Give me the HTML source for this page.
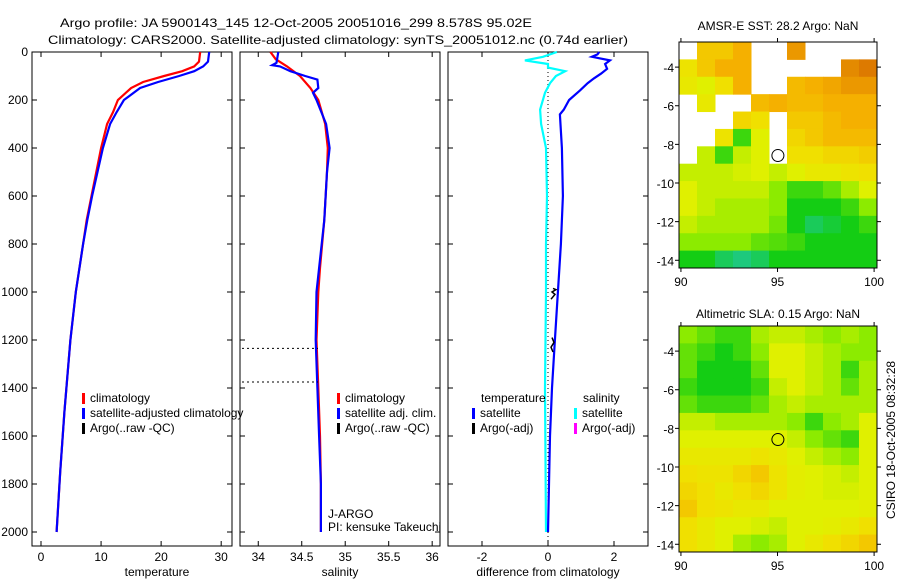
<!DOCTYPE html>
<html><head><meta charset="utf-8">
<style>
body{margin:0;background:#fff;}
svg text{font-family:"Liberation Sans",sans-serif;font-size:12px;fill:#000;}
</style></head>
<body>
<svg id="c" width="900" height="580" xmlns="http://www.w3.org/2000/svg">
<text x="60" y="27" font-size="14" textLength="472" lengthAdjust="spacingAndGlyphs">Argo profile: JA 5900143_145 12-Oct-2005 20051016_299 8.578S 95.02E</text>
<text x="48" y="44" font-size="14" textLength="580" lengthAdjust="spacingAndGlyphs">Climatology: CARS2000. Satellite-adjusted climatology: synTS_20051012.nc (0.74d earlier)</text>
<text x="157" y="576" text-anchor="middle">temperature</text>
<text x="340" y="576" text-anchor="middle">salinity</text>
<text x="548" y="576" text-anchor="middle">difference from climatology</text>
<text x="778" y="30" text-anchor="middle" font-size="13">AMSR-E SST: 28.2 Argo: NaN</text>
<text x="778" y="318" text-anchor="middle" font-size="13">Altimetric SLA: 0.15 Argo: NaN</text>
<text transform="translate(895,440) rotate(-90)" text-anchor="middle" font-size="13">CSIRO 18-Oct-2005 08:32:28</text>
</svg>
<script>
// ---- data ----
const tDepth=[0,40,60,80,100,125,150,200,250,300,400,500,600,700,800,1000,1200,1500,1750,2000];
const tClim=[26.5,26.3,25.5,23.5,20.5,17,15,12.8,12,11,10,9.2,8.4,7.6,7,5.8,4.9,3.9,3.2,2.6];
const tSat=[28,27.8,27,25.5,23,19.5,16.5,13.8,12.6,11.5,10.3,9.4,8.5,7.7,7,5.8,4.9,3.9,3.2,2.6];
const sDepthC=[0,30,60,100,150,200,300,400,500,700,900,1000,1200,1400,1600,1800,2000];
const sClim=[34.14,34.2,34.33,34.48,34.6,34.69,34.77,34.8,34.79,34.76,34.71,34.69,34.67,34.69,34.71,34.72,34.72];
const sDepthS=[0,45,55,60,80,100,115,150,170,200,300,400,500,700,1000,1200,1400,1600,1800,2000];
const sSat=[34.23,34.21,34.16,34.25,34.37,34.54,34.68,34.69,34.63,34.67,34.78,34.82,34.79,34.76,34.67,34.66,34.68,34.7,34.72,34.72];
const dDepthT=[0,10,20,35,50,70,90,110,130,160,200,240,260,400,600,800,1000,1200,1400,1600,2000];
const dTemp=[1.55,1.5,1.33,1.88,1.73,1.79,1.61,1.39,1.2,0.97,0.64,0.48,0.36,0.42,0.45,0.39,0.3,0.21,0.12,0.06,0.0];
const dDepthS=[0,20,35,50,65,80,100,130,170,240,300,400,600,800,1000,1400,2000];
const dSal=[0.27,-0.15,-0.7,0,0,0.52,0.24,0.06,-0.09,-0.24,-0.21,-0.06,-0.03,-0.06,-0.06,-0.09,-0.06];
const depthTicks=[0,200,400,600,800,1000,1200,1400,1600,1800,2000];
const tTicks=[0,10,20,30], sTicks=[34,34.5,35,35.5,36], dTicks=[-2,0,2];
const latTicks=[-4,-6,-8,-10,-12,-14], lonTicks=[90,95,100];
const sstGrid=[
[NaN,.75,.75,.8,NaN,NaN,.85,NaN,NaN,NaN,NaN],
[.68,.75,.8,.8,NaN,NaN,NaN,NaN,NaN,.88,.92],
[.65,.6,.7,.8,NaN,NaN,.78,.8,.82,.85,.85],
[NaN,.65,NaN,NaN,.78,.8,.78,.78,.8,.8,.8],
[NaN,NaN,NaN,.72,.7,NaN,.75,.75,.78,.8,.8],
[NaN,NaN,.68,.35,.6,NaN,.72,.75,.78,.78,.78],
[NaN,.55,.35,.55,.6,NaN,.7,.7,.72,.72,.74],
[.55,.55,.55,.58,.6,.55,.6,.65,.65,.68,.7],
[.6,.55,.55,.55,.55,.45,.35,.35,.4,.5,.6],
[.6,.55,.5,.5,.5,.45,.3,.3,.3,.35,.45],
[.55,.5,.5,.5,.5,.42,.3,.2,.25,.3,.35],
[.45,.45,.45,.45,.4,.38,.35,.3,.3,.3,.3],
[.3,.3,.2,.15,.2,.3,.3,.3,.3,.3,.3]];
const slaGrid=[
[.45,.4,.35,.35,.5,.55,.55,.5,.45,.5,.45],
[.4,.35,.3,.35,.45,.6,.6,.55,.5,.45,.45],
[.4,.3,.3,.3,.4,.6,.6,.55,.5,.35,.5],
[.35,.3,.3,.3,.35,.55,.6,.55,.5,.4,.5],
[.4,.35,.35,.35,.4,.5,.55,.5,.5,.5,.5],
[.55,.55,.5,.5,.5,.5,.45,.35,.45,.5,.6],
[.6,.6,.6,.6,.6,.6,.55,.45,.4,.35,.6],
[.65,.65,.65,.65,.68,.65,.6,.55,.5,.45,.6],
[.7,.68,.68,.72,.75,.68,.62,.6,.58,.55,.6],
[.72,.7,.65,.7,.72,.68,.62,.6,.58,.58,.6],
[.75,.7,.68,.65,.65,.6,.6,.6,.6,.6,.62],
[.7,.65,.6,.6,.58,.55,.6,.6,.62,.65,.7],
[.7,.65,.6,.5,.45,.5,.6,.65,.7,.72,.75]];

const NS="http://www.w3.org/2000/svg", svg=document.getElementById('c');
function mk(tag,at,parent){const e=document.createElementNS(NS,tag);for(const k in at)e.setAttribute(k,at[k]);(parent||svg).appendChild(e);return e;}
const yD=d=>52+d*0.24;
function panel(x0,vmin,vmax,ticks,name,labelsY){
  const xs=v=>x0+(v-vmin)/(vmax-vmin)*200;
  const r=mk('rect',{x:x0,y:52,width:200,height:494,fill:'none',stroke:'#000'});
  
  
  ticks.forEach(t=>{const x=xs(t);
    mk('line',{x1:x,x2:x,y1:52,y2:57,stroke:'#000'});mk('line',{x1:x,x2:x,y1:546,y2:541,stroke:'#000'});
    const tx=mk('text',{x:x,y:561,'text-anchor':'middle'});tx.textContent=t;
    
    });
  depthTicks.forEach(d=>{const y=yD(d);
    mk('line',{x1:x0,x2:x0+5,y1:y,y2:y,stroke:'#000'});mk('line',{x1:x0+200,x2:x0+195,y1:y,y2:y,stroke:'#000'});
    if(labelsY){const tx=mk('text',{x:x0-4,y:y+4,'text-anchor':'end'});tx.textContent=d;
      
      }});
  return xs;
}
function line(xs,depths,vals,color,name,w){
  const p=mk('polyline',{points:depths.map((d,i)=>xs(vals[i]).toFixed(1)+','+yD(d).toFixed(1)).join(' '),fill:'none',stroke:color,'stroke-width':w||2.2});
  
  
}
const xT=panel(32,-1.5,31.8,tTicks,'temperature',true);
line(xT,tDepth,tClim,'#ff0000','temp-climatology-line');
line(xT,tDepth,tSat,'#0000ff','temp-satellite-line');
const xS=panel(240,33.79,36.09,sTicks,'salinity',false);
line(xS,sDepthC,sClim,'#ff0000','sal-climatology-line');
line(xS,sDepthS,sSat,'#0000ff','sal-satellite-line');
[1235,1375].forEach(d=>mk('line',{x1:242,x2:318,y1:yD(d),y2:yD(d),stroke:'#000','stroke-dasharray':'2,3'}));
const xDf=panel(448,-3.03,3.03,dTicks,'difference',false);
mk('line',{x1:xDf(0),x2:xDf(0),y1:52,y2:546,stroke:'#000','stroke-dasharray':'1,3'});
line(xDf,dDepthS,dSal,'#00ffff','sal-diff-line');
line(xDf,dDepthT,dTemp,'#0000ff','temp-diff-line');
mk('polyline',{points:'553,985 556,990 552,1000 555,1010 551,1030'.split(' ').map(s=>{const[a,b]=s.split(',');return a+','+yD(+b)}).join(' '),fill:'none',stroke:'#000','stroke-width':1.5});
mk('polyline',{points:'552,1190 554,1210 551,1230 553,1250'.split(' ').map(s=>{const[a,b]=s.split(',');return a+','+yD(+b)}).join(' '),fill:'none',stroke:'#000','stroke-width':1.5});
// labels
function legend(x,y,color,txt,name){mk('rect',{x:x,y:y-9,width:3,height:11,fill:color});
  const t=mk('text',{x:x+8,y:y});t.textContent=txt;
  
  }
legend(82,402,'#ff0000','climatology','legend-climatology');
legend(82,417,'#0000ff','satellite-adjusted climatology','legend-satellite-adjusted');
legend(82,432,'#000','Argo(..raw -QC)','legend-argo');
legend(337,402,'#ff0000','climatology','sal-legend-climatology');
legend(337,417,'#0000ff','satellite adj. clim.','sal-legend-satellite');
legend(337,432,'#000','Argo(..raw -QC)','sal-legend-argo');
(function(){const t=mk('text',{x:481,y:402});t.textContent='temperature';
  
  
  const s=mk('text',{x:583,y:402});s.textContent='salinity';
  
  })();
legend(472,417,'#0000ff','satellite','diff-legend-temp-satellite');
legend(472,432,'#000','Argo(-adj)','diff-legend-temp-argo');
legend(574,417,'#00ffff','satellite','diff-legend-sal-satellite');
legend(574,432,'#ff00ff','Argo(-adj)','diff-legend-sal-argo');
(function(){const a=mk('text',{x:328,y:518});a.textContent='J-ARGO';
  
  
  const b=mk('text',{x:328,y:531});b.textContent='PI: kensuke Takeuchi';
  
  })();
// maps
const stops=[[0.1,[32,200,160]],[0.3,[20,205,20]],[0.45,[140,235,0]],[0.6,[224,240,0]],[0.7,[240,224,0]],[0.8,[245,176,0]],[0.9,[224,128,0]],[1,[208,96,0]]];
function cmap(v){if(v<=stops[0][0])return 'rgb('+stops[0][1]+')';
  for(let i=1;i<stops.length;i++){if(v<=stops[i][0]){const[a,ca]=stops[i-1],[b,cb]=stops[i];const f=(v-a)/(b-a);
    return 'rgb('+ca.map((c,k)=>Math.round(c+(cb[k]-c)*f)).join(',')+')';}}
  return 'rgb('+stops[stops.length-1][1]+')';}
function map(y0,grid,name){
  const x0=679,W=198,H=226,lonMin=89.9,lonMax=100.15,latTop=-2.7,latBot=-14.4;
  const xs=lo=>x0+(lo-lonMin)/(lonMax-lonMin)*W, ys=la=>y0+(latTop-la)/(latTop-latBot)*H;
  const nr=grid.length,nc=grid[0].length,cw=W/nc,ch=H/nr;
  grid.forEach((row,r)=>row.forEach((v,c)=>{if(isNaN(v))return;
    const e=mk('rect',{x:x0+c*cw,y:y0+r*ch,width:cw+0.5,height:ch+0.5,fill:cmap(v)});
    
    }));
  const f=mk('rect',{x:x0,y:y0,width:W,height:H,fill:'none',stroke:'#000'});
  
  
  latTicks.forEach(la=>{const y=ys(la);mk('line',{x1:x0,x2:x0-4,y1:y,y2:y,stroke:'#000'});mk('line',{x1:x0+W,x2:x0+W+4,y1:y,y2:y,stroke:'#000'});
    const t=mk('text',{x:x0-5,y:y+5,'text-anchor':'end','font-size':13});t.textContent=la;
    
    });
  lonTicks.forEach(lo=>{const x=xs(lo);mk('line',{x1:x,x2:x,y1:y0,y2:y0-4,stroke:'#000'});mk('line',{x1:x,x2:x,y1:y0+H,y2:y0+H+4,stroke:'#000'});
    const t=mk('text',{x:x,y:y0+H+18,'text-anchor':'middle','font-size':13});t.textContent=lo;
    
    });
  const c=mk('circle',{cx:xs(95.02),cy:ys(-8.578),r:6,fill:'none',stroke:'#000'});
  
  
}
map(42,sstGrid,'sst-map');
map(326,slaGrid,'sla-map');
</script>
</body></html>
